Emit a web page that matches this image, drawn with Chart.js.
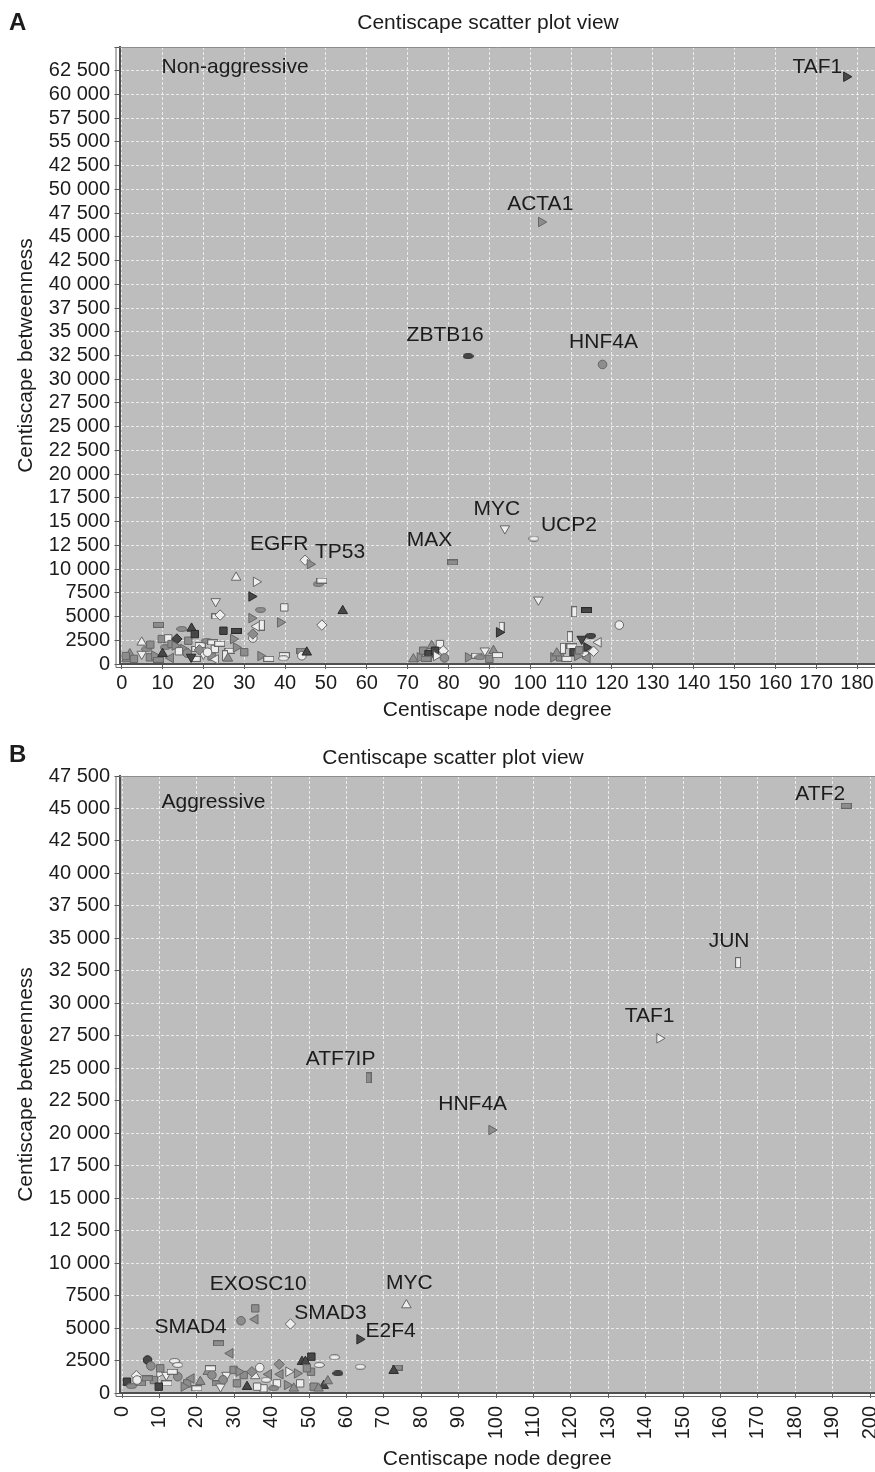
<!DOCTYPE html>
<html><head><meta charset="utf-8">
<script src="https://cdn.jsdelivr.net/npm/chart.js@4/dist/chart.umd.min.js"></script>
<style>
html,body{margin:0;padding:0;background:#fff;}
#wrap{position:relative;width:875px;height:1472px;overflow:hidden;background:#fff;}
canvas{position:absolute;left:0;}
#cA{top:0;} #cB{top:735px;}
</style></head><body>
<div id="wrap"><canvas id="cA" width="875" height="735"></canvas><canvas id="cB" width="875" height="737"></canvas></div>
<script>
// ---------------- DATA : panel A (Non-aggressive) ----------------
const aDegree = [1.2,2.0,4.9,4.9,6.9,9.0,9.8,11.4,10.6,12.2,13.5,14.7,15.1,16.3,17.1,17.9,18.4,19.2,20.0,20.8,
  22.3,23.3,24.1,23.0,22.8,24.9,28.0,27.3,26.5,25.3,31.8,31.8,34.0,33.0,34.3,32.1,32.1,38.8,39.8,39.8,
  39.6,44.1,44.1,45.3,48.1,49.0,49.0,54.1,28.0,32.9,71.4,73.8,75.1,75.9,77.9,78.7,76.7,73.0,84.8,86.9,
  88.9,91.0,93.0,92.4,87.7,105.7,108.0,109.7,110.2,110.6,112.6,113.8,113.0,114.8,116.7,107.3,121.8,102.0,110.8,113.8,
  3,8,12,16,18,22,26,14,6,10,19,24,13,21,7,17,28,9,1,23,
  74.5,77,79,90,92,106.5,109,111.5,112,114,115.5,34,36,30];
const aBetweenness = [280,810,2040,810,460,3890,2390,2460,1510,1860,2390,3440,1340,2210,3510,2910,1340,1760,810,2210,
  2040,4770,4910,6350,1340,3260,3260,2390,1160,630,4590,6870,5470,3720,3860,2490,2910,4140,5720,700,
  360,1160,630,990,8170,8550,3860,5360,8870,8410,280,1160,810,1680,1860,1160,1160,460,460,630,
  1160,1160,3620,3090,460,460,1410,2630,1620,990,2390,1510,810,2730,2040,460,3860,6520,5260,5430,
  300,650,400,900,300,550,350,1100,1300,850,1250,1900,1700,1000,1800,500,1500,200,600,250,
  300,600,400,300,700,900,300,600,1200,400,1100,600,300,1000];
const aSymbol = ['Tm','Tm','Tw','Dw','Sm','Hm','Sm','Sw','Em','Sm','Qd','Em','Rm','Sm','Td','Sd','Hw','Hw','Dw','Em',
  'Hw','Hw','Qw','Dw','Sw','Sd','Hd','Rm','Hw','Vw','Rm','Rd','Em','Lw','Vw','Cw','Qm','Rm','Sw','Hw',
  'Ew','Hm','Cw','Td','Em','Hw','Qw','Td','Tw','Rw','Tm','Sm','Sd','Tm','Sw','Qw','Sd','Rm','Rm','Hw',
  'Dw','Tm','Vw','Rd','Em','Rm','Vw','Vw','Hw','Sd','Dd','Rd','Hw','Ed','Lw','Sm','Cw','Dw','Vw','Hd',
  'Sm','Rm','Lm','Cm','Hw','Sm','Tm','Sw','Em','Td','Qm','Hw','Rm','Cw','Sm','Dd','Rm','Hm','Sm','Lw',
  'Hm','Rw','Cm','Sm','Hw','Tm','Hw','Rm','Sm','Lm','Qw','Rm','Hw','Sm'];
const aGenes = ['TAF1','ACTA1','ZBTB16','HNF4A','MYC','UCP2','MAX','EGFR','TP53'];
const aGeneDegree = [177.4,102.7,84.8,117.7,93.8,100.9,81.0,44.9,46.1];
const aGeneBetweenness = [61600,46300,32170,31300,14020,12970,10450,10690,10270];
const aGeneSymbol = ['Rd','Rm','Ed','Cm','Dw','Ew','Hm','Qw','Rm'];
const aYTickLabels = ['0','2500','5000','7500','10 000','12 500','15 000','17 500','20 000','22 500','25 000',
  '27 500','30 000','32 500','35 000','37 500','40 000','42 500','45 000','47 500','50 000','42 500',
  '55 000','57 500','60 000','62 500'];

// ---------------- DATA : panel B (Aggressive) ----------------
const bDegree = [31.8,35.6,28.9,56.8,63.7,73.5,72.6,57.7,50.6,48.1,49.0,52.7,42.0,36.8,39.2,42.3,46.8,50.5,22.9,24.0,
  27.9,32.5,35.6,6.8,7.7,14.0,14.9,3.8,10.0,11.8,14.9,37.8,53.9,41.4,1.3,4.9,8.5,12.0,17.4,20.9,
  25.4,30.7,33.4,44.1,47.6,51.2,23.6,29.8,31.2,34.7,44.5,49.4,4.0,9.8,16.5,20.0,26.3,36.1,40.5,45.9,
  52.5,10.2,13.4,6.7,2.5,18.5,27,38.5,55];
const bBetweenness = [5420,5530,2870,2560,1820,1750,1510,1300,2610,2220,2220,1960,2010,1750,1230,1230,1300,1430,1430,1170,
  1170,1170,1100,2350,1880,2270,1960,1120,1310,1170,1040,130,340,520,650,520,780,520,520,650,
  520,520,260,390,520,260,1700,1570,1430,1430,1430,1700,780,260,260,130,260,260,130,130,
  130,1700,1430,910,300,900,800,800,700];
const bSymbol = ['Cm','Lm','Lm','Ew','Ew','Hm','Td','Ed','Sd','Td','Td','Ew','Qm','Cw','Lm','Lm','Rm','Sm','Tm','Cm',
  'Dw','Sm','Tw','Cd','Cm','Ew','Ew','Qw','Rw','Dw','Cm','Sw','Td','Sw','Sd','Hm','Sm','Hw','Sm','Tm',
  'Hm','Sm','Td','Rm','Sw','Sm','Hw','Sm','Rm','Qm','Rw','Sm','Cw','Sd','Rm','Hw','Dw','Sw','Em','Tm',
  'Tm','Sm','Hw','Hm','Em','Lm','Cm','Ew','Tm'];
const bGenes = ['ATF2','JUN','TAF1','ATF7IP','HNF4A','MYC','EXOSC10','SMAD3','SMAD4','E2F4'];
const bGeneDegree = [193.6,164.7,143.7,65.9,98.8,76.0,35.6,45.0,25.8,63.5];
const bGeneBetweenness = [45730,33450,27530,24440,20350,6650,6390,5170,3650,3970];
const bGeneSymbol = ['Hm','Vw','Rw','Vm','Rm','Tw','Sm','Qw','Hm','Rd'];
const bYTickLabels = ['0','2500','5000','7500','10 000','12 500','15 000','17 500','20 000','22 500','25 000',
  '27 500','30 000','32 500','35 000','37 500','40 000','42 500','45 000','47 500'];

// ---------------- STYLE ----------------
const FONT = '"Liberation Sans", Arial, Helvetica, sans-serif';
const TXT = '#1c1c1c';
const GRID = 'rgba(255,255,255,0.7)';
const SHADE = {w:{fill:'#eeeeee',line:'#666666'}, m:{fill:'#8d8d8d',line:'#666666'}, d:{fill:'#474747',line:'#2a2a2a'}};
const SHAPE = {T:['triangle',0,5.5], D:['triangle',180,5.5], R:['triangle',90,5.5], L:['triangle',270,5.5],
  S:['rect',0,5.2], C:['circle',0,4.3], Q:['rectRot',0,5.2]};
const IMG = {H:[11,6,'rect'], V:[6,11,'rect'], E:[11,6,'ellipse']};
const imgCache = {};
function sym(code){
  const k = code[0], sh = SHADE[code[1]];
  if (IMG[k]) {
    if (!imgCache[code]) {
      const [w,h,t] = IMG[k];
      const c = document.createElement('canvas'); c.width = w; c.height = h;
      const g = c.getContext('2d'); g.fillStyle = sh.fill; g.strokeStyle = sh.line; g.lineWidth = 1;
      if (t === 'ellipse') { g.beginPath(); g.ellipse(w/2,h/2,w/2-0.6,h/2-0.6,0,0,Math.PI*2); g.fill(); g.stroke(); }
      else { g.fillRect(0.5,0.5,w-1,h-1); g.strokeRect(0.5,0.5,w-1,h-1); }
      imgCache[code] = c;
    }
    return {style: imgCache[code], rot: 0, r: 5, fill: sh.fill, line: sh.line};
  }
  const s = SHAPE[k];
  return {style: s[0], rot: s[1], r: s[2], fill: sh.fill, line: sh.line};
}
function points(xs, ys, ss){ return xs.map((x,i)=>({x:x, y:ys[i], s:ss[i]})); }
function dataset(xs, ys, ss, genes){
  const ds = {
    data: points(xs, ys, ss), showLine:false,
    pointStyle: c => c.raw ? sym(c.raw.s).style : 'circle',
    pointRotation: c => c.raw ? sym(c.raw.s).rot : 0,
    pointRadius: c => c.raw ? sym(c.raw.s).r : 4,
    pointBackgroundColor: c => c.raw ? sym(c.raw.s).fill : '#888',
    pointBorderColor: c => c.raw ? sym(c.raw.s).line : '#666',
    pointBorderWidth: 1
  };
  if (genes) ds.genes = genes;
  return ds;
}

const frame = {
  id:'frame',
  beforeDraw(chart, args, o){
    const {ctx, chartArea:a} = chart;
    ctx.save();
    ctx.fillStyle = '#fff'; ctx.fillRect(0,0,chart.width,chart.height);
    ctx.fillStyle = '#bdbdbe'; ctx.fillRect(a.left, a.top, a.right-a.left, a.bottom-a.top);
    ctx.restore();
  },
  afterDraw(chart, args, o){
    const {ctx, chartArea:a} = chart;
    ctx.save();
    ctx.strokeStyle = '#8c8c8c'; ctx.lineWidth = 1;
    ctx.beginPath(); ctx.moveTo(a.left, a.top+0.5); ctx.lineTo(a.right, a.top+0.5); ctx.stroke();
    ctx.strokeStyle = '#6a6a6a';
    ctx.beginPath(); ctx.moveTo(a.left-3.5, a.top); ctx.lineTo(a.left-3.5, a.bottom+3.5); ctx.lineTo(a.right, a.bottom+3.5); ctx.stroke();
    ctx.fillStyle = TXT; ctx.textBaseline = 'middle';
    ctx.font = 'bold 24px ' + FONT; ctx.textAlign = 'left';
    ctx.fillText(o.letter, 9, o.letterY);
    ctx.font = '21px ' + FONT; ctx.textAlign = 'center';
    ctx.fillText('Centiscape scatter plot view', o.titleX, 23.5);
    ctx.textAlign = 'left';
    ctx.fillText(o.group, a.left + 42, a.top + o.groupDy);
    ctx.restore();
  }
};
const geneLabels = {
  id:'geneLabels',
  afterDatasetsDraw(chart, args, o){
    const ctx = chart.ctx;
    ctx.save(); ctx.font = '21px ' + FONT; ctx.fillStyle = TXT; ctx.textAlign = 'center'; ctx.textBaseline = 'middle';
    chart.data.datasets.forEach((ds, di) => {
      if (!ds.genes) return;
      chart.getDatasetMeta(di).data.forEach((el, i) => {
        const name = ds.genes[i]; const off = o.offsets[name] || [0,-20];
        ctx.fillText(name, el.x + off[0], el.y + off[1]);
      });
    });
    ctx.restore();
  }
};

function makeChart(id, c){
  return new Chart(document.getElementById(id), {
    type:'scatter',
    data:{ datasets:[ dataset(c.xs, c.ys, c.ss), dataset(c.gx, c.gy, c.gs, c.genes) ] },
    plugins:[frame, geneLabels],
    options:{
      responsive:false, animation:false, devicePixelRatio:1,
      layout:{ autoPadding:false, padding:{ top:c.top, left:0, right:0, bottom:0 } },
      plugins:{ legend:{display:false}, tooltip:{enabled:false}, title:{display:false},
        frame:{ letter:c.letter, letterY:c.letterY, titleX:c.titleX, group:c.group, groupDy:c.groupDy },
        geneLabels:{ offsets:c.offsets } },
      scales:{
        x:{ type:'linear', position:'bottom', min:c.xMin, max:c.xMax,
          afterFit: s => { s.height = c.xH; s.paddingLeft = 0; s.paddingRight = 0; },
          ticks:{ stepSize:10, includeBounds:false, autoSkip:false, maxTicksLimit:200, minRotation:c.rot, maxRotation:c.rot,
            padding:c.xPad, color:TXT, font:{family:FONT, size:20} },
          grid:{ color:GRID, lineWidth:1, drawTicks:true, tickLength:5, tickColor:'#555', tickWidth:1 },
          border:{ display:true, color:'#505050', width:2, dash:[3,2] },
          title:{ display:true, text:'Centiscape node degree', color:TXT, font:{family:FONT, size:21}, padding:{top:0, bottom:c.xTitlePad} } },
        y:{ type:'linear', position:'left', min:c.yMin, max:c.yMax,
          afterFit: s => { s.width = 119.5; s.paddingTop = 0; s.paddingBottom = 0; },
          ticks:{ stepSize:2500, includeBounds:false, autoSkip:false, maxTicksLimit:200, padding:4.5, color:TXT,
            font:{family:FONT, size:20}, callback: v => c.yLabels[Math.round(v/2500)] ?? '' },
          grid:{ color:GRID, lineWidth:1, drawTicks:true, tickLength:5, tickColor:'#555', tickWidth:1 },
          border:{ display:true, color:'#505050', width:2, dash:[3,2] },
          title:{ display:true, text:'Centiscape betweenness', color:TXT, font:{family:FONT, size:21}, padding:{top:14, bottom:0} } }
      }
    }
  });
}

makeChart('cA', { xs:aDegree, ys:aBetweenness, ss:aSymbol, gx:aGeneDegree, gy:aGeneBetweenness, gs:aGeneSymbol, genes:aGenes,
  yLabels:aYTickLabels, top:47, xMin:-0.54, xMax:184.4, yMin:-240, yMax:64730, xH:71, rot:0, xPad:2.5, xTitlePad:12,
  letter:'A', letterY:23, titleX:488, group:'Non-aggressive', groupDy:20,
  offsets:{TAF1:[-29,-10], ACTA1:[-1,-18], ZBTB16:[-23,-21], HNF4A:[1,-22], MYC:[-8,-19], UCP2:[35,-13], MAX:[-23,-22], EGFR:[-26,-16], TP53:[30,-12]} });

makeChart('cB', { xs:bDegree, ys:bBetweenness, ss:bSymbol, gx:bGeneDegree, gy:bGeneBetweenness, gs:bGeneSymbol, genes:bGenes,
  yLabels:bYTickLabels, top:41, xMin:-0.7, xMax:201.3, yMin:-235, yMax:48060, xH:79, rot:90, xPad:8, xTitlePad:0,
  letter:'B', letterY:20, titleX:453, group:'Aggressive', groupDy:26,
  offsets:{ATF2:[-26,-12], JUN:[-9,-21], TAF1:[-10,-22], ATF7IP:[-28,-19], HNF4A:[-19,-26], MYC:[3,-22], EXOSC10:[3,-24], SMAD3:[40,-11], SMAD4:[-28,-16], E2F4:[31,-8]} });
</script>
</body></html>
